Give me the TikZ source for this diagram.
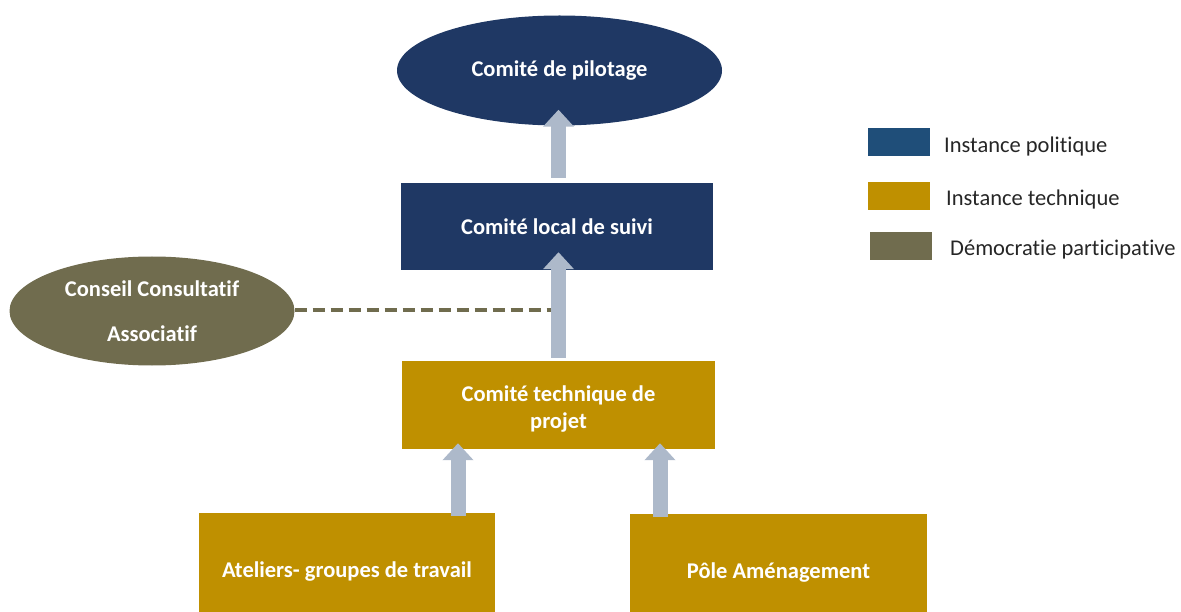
\documentclass[tikz,border=0pt]{standalone}
\usepackage{fontspec}
\setmainfont{Carlito}[Ligatures=NoCommon]
\usetikzlibrary{shapes.geometric,arrows.meta}
\definecolor{navy}{HTML}{1F3864}
\definecolor{legblue}{HTML}{1F4E79}
\definecolor{gold}{HTML}{BF9000}
\definecolor{olive}{HTML}{706C4E}
\definecolor{arrowgray}{HTML}{ADB9CA}
\tikzset{
  box/.style={rectangle, inner sep=0pt, text=white, font=\fontsize{22.5}{30}\selectfont\bfseries, align=center},
  ell/.style={ellipse, inner sep=0pt, text=white, font=\fontsize{22.5}{30}\selectfont\bfseries, align=center},
  barrow/.style={draw=arrowgray, line width=15pt, -{Triangle[width=30pt,length=17pt]}, arrowgray},
  legbox/.style={rectangle, inner sep=0pt, minimum width=62pt, minimum height=28pt},
  legtext/.style={anchor=west, inner sep=0pt, font=\fontsize{22.5}{26}\selectfont, text=black!85},
  dashline/.style={draw=olive, line width=4pt, dash pattern=on 12pt off 6pt}
}
\begin{document}
\begin{tikzpicture}[x=1pt,y=-1pt]
\useasboundingbox (0,0) rectangle (1181,612);
% nodes
\node[ell, fill=navy, minimum width=325pt, minimum height=110pt] (pil) at (559.5,70.5) {Comité de pilotage};
\node[box, fill=navy, minimum width=312pt, minimum height=87pt] (cls) at (557,226.5) {Comité local de suivi};
\node[ell, fill=olive, minimum width=285pt, minimum height=109pt, font=\fontsize{22.5}{45}\selectfont\bfseries] (cca) at (152,311) {Conseil Consultatif\\Associatif};
\node[box, fill=gold, minimum width=313pt, minimum height=88pt] (ctp) at (558.5,405) {\raisebox{-4pt}[\height][\depth]{\shortstack{Comité technique de\\[4pt]projet}}};
\node[box, fill=gold, minimum width=296pt, minimum height=99pt] (atel) at (347,562.5) {\raisebox{-9.5pt}[\height][\depth]{Ateliers- groupes de travail}};
\node[box, fill=gold, minimum width=297pt, minimum height=98pt] (pole) at (778.5,563) {\raisebox{-9.5pt}[\height][\depth]{Pôle Aménagement}};
% connectors
\draw[barrow] ([yshift=5pt]cls.north -| ctp.north) -- ([yshift=16pt]pil.south -| ctp.north);
\draw[barrow] ([yshift=3pt]ctp.north) -- ([yshift=18pt]cls.south -| ctp.north);
\draw[barrow] ([xshift=111pt,yshift=-3pt]atel.north) -- ([xshift=-100.5pt,yshift=6pt]ctp.south);
\draw[barrow] ([xshift=-118.5pt,yshift=-3pt]pole.north) -- ([xshift=101.5pt,yshift=6pt]ctp.south);
\coordinate (dashend) at (551,310);
\draw[dashline] (cca.east |- dashend) -- (dashend);
% legend
\node[legbox, fill=legblue] (l1) at (899,142.5) {};
\node[legbox, fill=gold] (l2) at (899,196.5) {};
\node[legbox, fill=olive] (l3) at (901,246.5) {};
\node[legtext] (t1) at (944,147) {Instance politique};
\node[legtext] (t2) at (946,200) {Instance technique};
\node[legtext] (t3) at (950,250) {Démocratie participative};
\end{tikzpicture}
\end{document}
